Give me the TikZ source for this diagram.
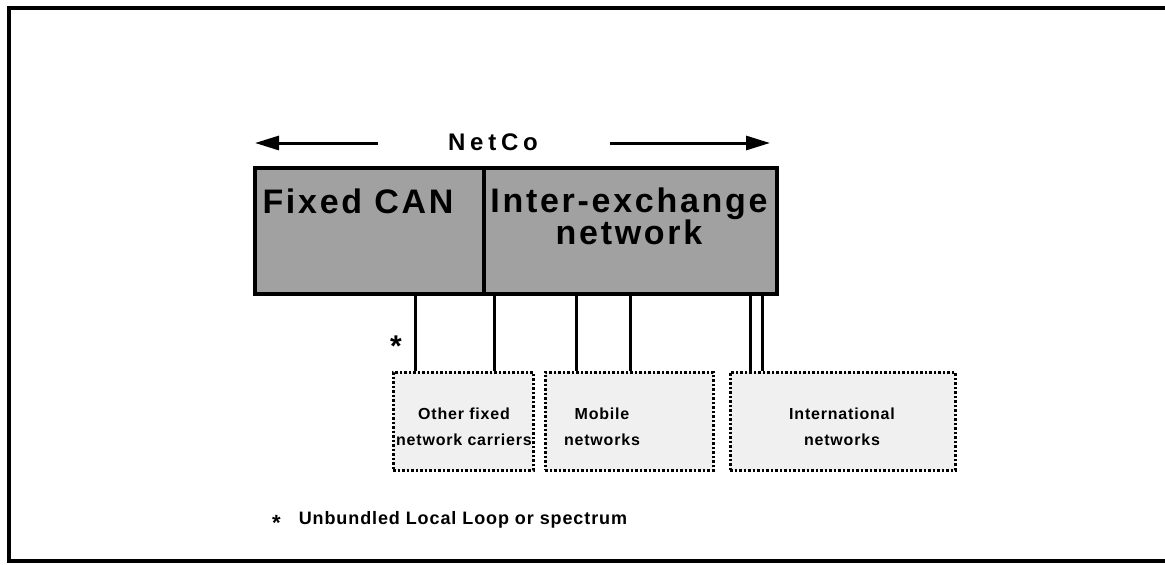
\documentclass[tikz,border=0pt]{standalone}
\usepackage{fontspec}
\setmainfont{Liberation Sans}
\newfontfamily\spacedfont[LetterSpace=8]{Liberation Sans}
\newfontfamily\widefont[LetterSpace=20]{Liberation Sans}
\newfontfamily\tightfont[LetterSpace=5]{Liberation Sans}
\usetikzlibrary{arrows.meta,positioning}
\tikzstyle{core}=[draw, line width=4pt, fill=black!37, inner sep=0pt, minimum height=126pt]
\tikzstyle{carrier}=[draw, line width=3pt, dash pattern=on 2.5pt off 2pt, fill=black!6, inner sep=0pt, minimum height=98pt]
\tikzstyle{link}=[line width=3pt]
\tikzstyle{span}=[line width=3pt, -{Triangle[length=24pt,width=14pt]}]
\tikzstyle{bigtxt}=[font=\spacedfont\bfseries\fontsize{34}{32}\selectfont, align=center, inner sep=0pt]
\tikzstyle{smalltxt}=[font=\tightfont\bfseries\fontsize{16}{26}\selectfont, align=center, inner sep=0pt]

\begin{document}
\begin{tikzpicture}[x=1pt, y=-1pt]
\useasboundingbox (0,0) rectangle (1165,565);
% Frame
	\draw[line width=4pt] (1165,8) -- (9,8) -- (9,561) -- (1165,561);
% NetCo span
	\node[font=\widefont\bfseries\fontsize{24}{24}\selectfont, inner sep=0pt] (netco) at (493,142) {NetCo};
	\coordinate (lstart) at (378,143);
	\coordinate (lend) at (255,143);
	\coordinate (rstart) at (610,143);
	\coordinate (rend) at (770,143);
	\draw[span] (lstart) -- (lend);
	\draw[span] (rstart) -- (rend);
% NetCo boxes
	\node[core, minimum width=229pt] (can) at (369.5,231) {};
	\node[core, minimum width=293pt] (iex) at (630.5,231) {};
	\node[bigtxt] (cantxt) at (358,201) {Fixed CAN};
	\node[bigtxt] (iextxt) at (629,216) {Inter-exchange\\network};
% Other carriers
	\node[carrier, minimum width=140pt] (other) at (463,421) {};
	\node[carrier, minimum width=168pt] (mobile) at (629,421) {};
	\node[carrier, minimum width=225pt] (intl) at (842.5,421) {};
	\node[smalltxt] (othertxt) at (464,427) {Other fixed\\network carriers};
	\node[smalltxt] (mobiletxt) at (602,427) {Mobile\\networks};
	\node[smalltxt] (intltxt) at (842,427) {International\\networks};
% Interconnects
	\draw[link] ([xshift=-48pt]other.north) -- ([xshift=-48pt]other.north |- can.south);
	\draw[link] ([xshift=31pt]other.north) -- ([xshift=31pt]other.north |- iex.south);
	\draw[link] ([xshift=-53pt]mobile.north) -- ([xshift=-53pt]mobile.north |- iex.south);
	\draw[link] ([xshift=1pt]mobile.north) -- ([xshift=1pt]mobile.north |- iex.south);
	\draw[link] ([xshift=-92pt]intl.north) -- ([xshift=-92pt]intl.north |- iex.south);
	\draw[link] ([xshift=-80pt]intl.north) -- ([xshift=-80pt]intl.north |- iex.south);
% Footnote
	\node[font=\bfseries\fontsize{30}{30}\selectfont, inner sep=0pt] (star) at (396,346) {*};
	\node[font=\tightfont\bfseries\fontsize{18}{20}\selectfont, anchor=west, inner sep=0pt] (note) at (272,521) {\raisebox{-6pt}{\fontsize{22}{22}\selectfont*}\quad Unbundled Local Loop or spectrum};
\end{tikzpicture}
\end{document}
